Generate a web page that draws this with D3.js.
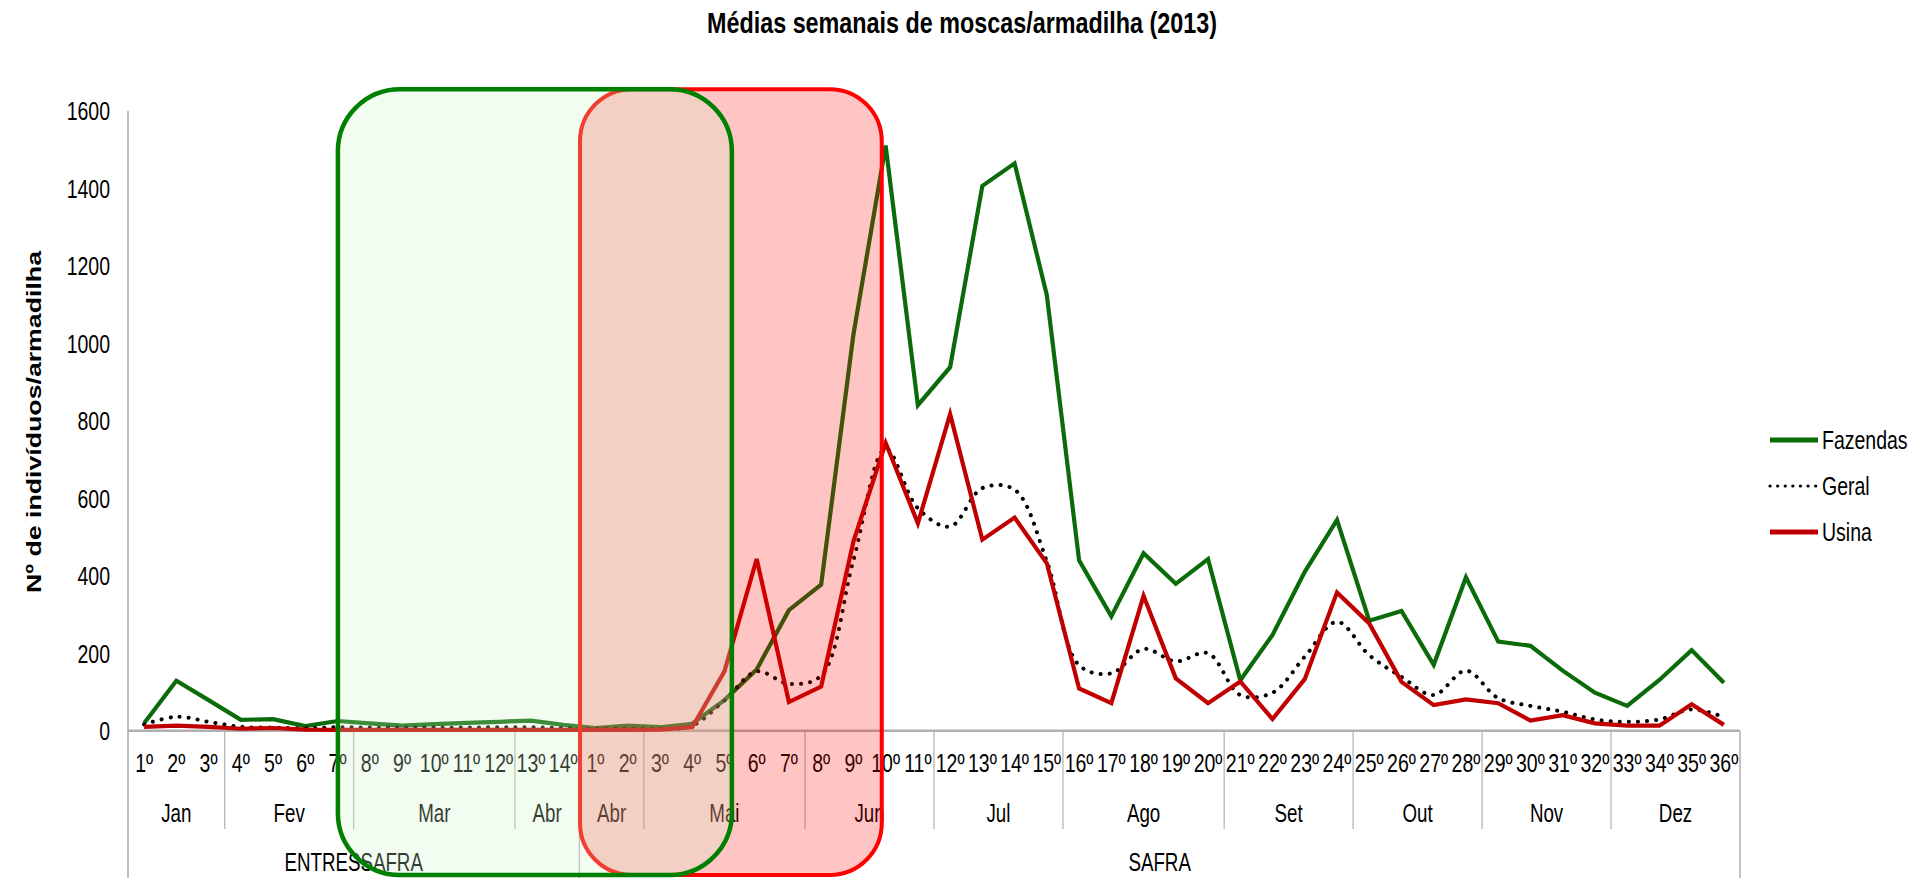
<!DOCTYPE html>
<html>
<head>
<meta charset="utf-8">
<script src="https://cdn.jsdelivr.net/npm/d3@7"></script>
<style>
  body { margin: 0; background: #fff; }
  text { font-family: "Liberation Sans", Arial, sans-serif; fill: #000; }
</style>
</head>
<body>
<div id="chart"></div>
<script>
/* DATA */
const weekLabels = [
  "1º","2º","3º","4º","5º","6º","7º","8º","9º","10º","11º","12º","13º","14º",
  "1º","2º","3º","4º","5º","6º","7º","8º","9º","10º","11º","12º","13º","14º","15º",
  "16º","17º","18º","19º","20º","21º","22º","23º","24º","25º","26º","27º","28º",
  "29º","30º","31º","32º","33º","34º","35º","36º"
];
const monthLabels = ["Jan","Fev","Mar","Abr","Abr","Mai","Jun","Jul","Ago","Set","Out","Nov","Dez"];
const monthWeeks  = [3, 4, 5, 2, 2, 5, 4, 4, 5, 4, 4, 4, 4];
const seasonLabels = ["ENTRESSAFRA", "SAFRA"];
const seasonWeeks  = [14, 36];

const fazendas = [19,129,79,28,30,12,25,19,13,17,20,23,26,15,
  7,13,9,18,79,158,311,377,1022,1510,840,938,1406,1464,1124,
  440,295,458,379,443,130,247,410,544,284,309,170,396,
  230,219,155,98,64,131,208,124];
const geral = [16,36,23,10,8,6,9,8,8,8,8,9,9,7,
  5,6,5,13,78,153,121,142,440,727,574,527,626,622,437,
  169,148,211,179,200,92,98,191,281,195,139,92,155,
  84,64,49,29,23,29,55,35];
const usina = [10,13,10,5,7,3,2,2,2,2,2,2,2,2,
  2,2,3,9,153,443,74,114,488,743,535,817,493,550,432,
  109,71,348,135,71,127,30,133,357,277,126,66,81,
  71,26,40,19,13,13,68,15];

const yTicks = [0, 200, 400, 600, 800, 1000, 1200, 1400, 1600];

/* CONSTANTS */
const width = 1918, height = 885;
const plot = { left: 128, right: 1740, top: 110.7, zero: 730.7, bottom: 878 };
const sx = 0.75; // horizontal squeeze of the narrow labels

const svg = d3.select("#chart").append("svg")
  .attr("width", width)
  .attr("height", height);

const xScale = d3.scaleBand()
  .domain(d3.range(weekLabels.length))
  .range([plot.left, plot.right]);
const bw = xScale.bandwidth();
const xPos = f => plot.left + f * bw; // fractional category position
const xMid = i => xScale(i) + bw / 2;

const yScale = d3.scaleLinear()
  .domain([0, 1600])
  .range([plot.zero, plot.top]);

// squeeze text horizontally around its own anchor
function narrow(sel, k = sx) {
  sel.attr("transform", function() {
    const x = +this.getAttribute("x"), y = +this.getAttribute("y");
    return `translate(${x},${y}) scale(${k},1) translate(${-x},${-y})`;
  });
}

/* TITLE */
svg.append("text")
  .attr("x", 962).attr("y", 33)
  .attr("text-anchor", "middle")
  .attr("font-weight", "bold")
  .attr("font-size", 29)
  .attr("textLength", 510)
  .attr("lengthAdjust", "spacingAndGlyphs")
  .text("Médias semanais de moscas/armadilha (2013)");

svg.append("text")
  .attr("transform", "translate(41,422) rotate(-90)")
  .attr("text-anchor", "middle")
  .attr("font-weight", "bold")
  .attr("font-size", 21)
  .attr("textLength", 342)
  .attr("lengthAdjust", "spacingAndGlyphs")
  .text("Nº de indivíduos/armadilha");

/* Y AXIS */
svg.append("line")
  .attr("x1", plot.left).attr("x2", plot.left)
  .attr("y1", plot.top).attr("y2", plot.bottom)
  .attr("stroke", "#a6a6a6").attr("stroke-width", 1.5);

svg.selectAll(".ytick")
  .data(yTicks)
  .join("text")
  .attr("class", "ytick")
  .attr("x", 110)
  .attr("y", d => yScale(d))
  .attr("dy", "0.36em")
  .attr("text-anchor", "end")
  .attr("font-size", 26)
  .text(d => d)
  .call(narrow);

/* X AXIS (multi level categories) */
svg.append("line")
  .attr("x1", plot.left).attr("x2", plot.right)
  .attr("y1", plot.zero).attr("y2", plot.zero)
  .attr("stroke", "#b0b0b0").attr("stroke-width", 2.5);

svg.append("line")
  .attr("x1", plot.right).attr("x2", plot.right)
  .attr("y1", plot.zero).attr("y2", plot.bottom)
  .attr("stroke", "#b0b0b0").attr("stroke-width", 1.5);

svg.selectAll(".wk")
  .data(weekLabels)
  .join("text")
  .attr("class", "wk")
  .attr("x", (d, i) => xMid(i))
  .attr("y", 772)
  .attr("text-anchor", "middle")
  .attr("font-size", 26)
  .text(d => d)
  .call(narrow);

const monthStart = d3.cumsum([0, ...monthWeeks]);
svg.selectAll(".msep")
  .data(monthStart.slice(1, -1))
  .join("line")
  .attr("class", "msep")
  .attr("x1", d => xPos(d)).attr("x2", d => xPos(d))
  .attr("y1", plot.zero).attr("y2", d => d === seasonWeeks[0] ? plot.bottom : 829)
  .attr("stroke", "#b0b0b0").attr("stroke-width", 1.2);

svg.selectAll(".month")
  .data(monthLabels)
  .join("text")
  .attr("class", "month")
  .attr("x", (d, i) => xPos(monthStart[i] + monthWeeks[i] / 2))
  .attr("y", 822)
  .attr("text-anchor", "middle")
  .attr("font-size", 25)
  .text(d => d)
  .call(narrow);

const seasonStart = d3.cumsum([0, ...seasonWeeks]);
svg.selectAll(".season")
  .data(seasonLabels)
  .join("text")
  .attr("class", "season")
  .attr("x", (d, i) => xPos(seasonStart[i] + seasonWeeks[i] / 2))
  .attr("y", 871)
  .attr("text-anchor", "middle")
  .attr("font-size", 25)
  .text(d => d)
  .call(narrow);

/* LINES */
const series = [
  { name: "Fazendas", values: fazendas, color: "#0b6b0b", dash: null, curve: d3.curveLinear },
  { name: "Geral", values: geral, color: "#000", dash: "0.1 9", curve: d3.curveCatmullRom.alpha(0.5) },
  { name: "Usina", values: usina, color: "#c00000", dash: null, curve: d3.curveLinear }
];

series.forEach(s => {
  const line = d3.line()
    .x((d, i) => xMid(i))
    .y(d => yScale(d))
    .curve(s.curve);
  svg.append("path")
    .datum(s.values)
    .attr("fill", "none")
    .attr("stroke", s.color)
    .attr("stroke-width", s.dash ? 4 : 4.2)
    .attr("stroke-linejoin", "miter")
    .attr("stroke-linecap", s.dash ? "round" : "butt")
    .attr("stroke-dasharray", s.dash)
    .attr("d", line);
});

/* LEGEND */
const legend = svg.selectAll(".legend")
  .data(series)
  .join("g")
  .attr("class", "legend");

legend.append("line")
  .attr("x1", 1770).attr("x2", 1818)
  .attr("y1", (d, i) => 440 + i * 46).attr("y2", (d, i) => 440 + i * 46)
  .attr("stroke", d => d.color)
  .attr("stroke-width", d => d.dash ? 3.2 : 5)
  .attr("stroke-linecap", d => d.dash ? "round" : "butt")
  .attr("stroke-dasharray", d => d.dash ? "0.1 7.5" : null);

legend.append("text")
  .attr("x", 1822)
  .attr("y", (d, i) => 440 + i * 46)
  .attr("dy", "0.36em")
  .attr("font-size", 26)
  .text(d => d.name)
  .call(narrow);

/* HIGHLIGHT BOXES (on top, translucent) */
const boxTop = plot.top - 21.5, boxBottom = 875;
svg.append("rect")
  .attr("x", xPos(14.02)).attr("y", boxTop)
  .attr("width", xPos(23.38) - xPos(14.02)).attr("height", boxBottom - boxTop)
  .attr("rx", 52).attr("ry", 52)
  .attr("fill", "rgba(255,0,0,0.23)")
  .attr("stroke", "#ff0000").attr("stroke-width", 4);

svg.append("rect")
  .attr("x", xPos(6.51)).attr("y", boxTop)
  .attr("width", xPos(18.73) - xPos(6.51)).attr("height", boxBottom - boxTop)
  .attr("rx", 62).attr("ry", 62)
  .attr("fill", "rgba(204,243,196,0.25)")
  .attr("stroke", "#008000").attr("stroke-width", 4.5);
</script>
</body>
</html>
